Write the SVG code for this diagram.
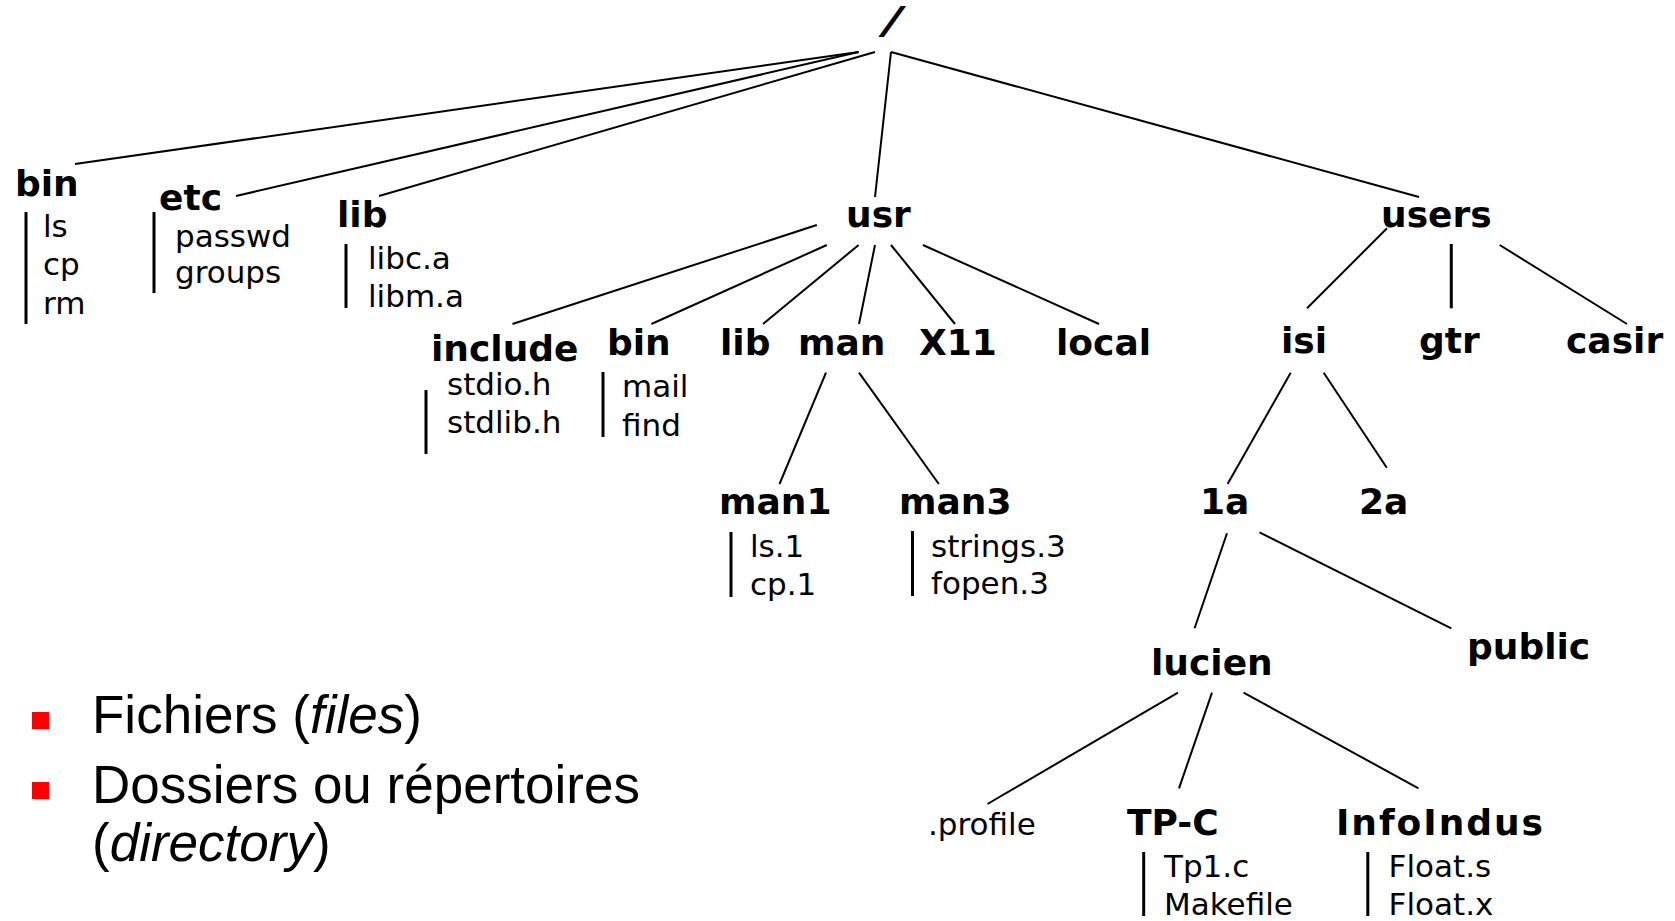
<svg xmlns="http://www.w3.org/2000/svg" width="1675" height="921" viewBox="0 0 1675 921">
<style>
.d{font-family:"DejaVu Sans",Verdana,sans-serif;font-weight:bold;font-size:36px;fill:#000}
.f{font-family:"DejaVu Sans",Verdana,sans-serif;font-size:31px;fill:#000}
.lg{font-family:"Liberation Sans",Arial,sans-serif;font-size:53px;fill:#000}
.c line{stroke:#000;stroke-width:2;fill:none}
.bar{stroke:#000;stroke-width:3}
.bul{fill:#ff0000}
</style>
<rect width="1675" height="921" fill="#fff"/>
<g id="connectors" class="c">
<line x1="858.6" y1="52" x2="75" y2="164"/>
<line x1="858.6" y1="52" x2="236" y2="196"/>
<line x1="875" y1="52" x2="379" y2="196"/>
<line x1="891" y1="52" x2="875" y2="197"/>
<line x1="891" y1="52" x2="1419" y2="197"/>
<line x1="816.8" y1="225" x2="512.5" y2="324"/>
<line x1="826.8" y1="245" x2="651.4" y2="324"/>
<line x1="858.6" y1="245" x2="763" y2="324"/>
<line x1="875" y1="245" x2="859" y2="324"/>
<line x1="891" y1="245" x2="955" y2="324"/>
<line x1="922.9" y1="245" x2="1099" y2="324"/>
<line x1="1387" y1="228.3" x2="1307" y2="308.3"/>
<line x1="1451.3" y1="244" x2="1451.3" y2="308.3" style="stroke-width:3"/>
<line x1="1499.7" y1="245" x2="1627" y2="324"/>
<line x1="826" y1="372.7" x2="779.5" y2="484"/>
<line x1="859" y1="372.7" x2="938.8" y2="484"/>
<line x1="1290.7" y1="372.7" x2="1227.6" y2="484"/>
<line x1="1323.7" y1="372.7" x2="1386.8" y2="467.7"/>
<line x1="1227" y1="533.3" x2="1194.6" y2="628.3"/>
<line x1="1259.5" y1="532.3" x2="1451.3" y2="628.3"/>
<line x1="1178" y1="692.7" x2="987.5" y2="804"/>
<line x1="1212" y1="692.7" x2="1179" y2="788.3"/>
<line x1="1243.6" y1="692.7" x2="1418.5" y2="788.3"/>
</g>
<g id="root"><text class="d" transform="translate(881,33) skewX(-22)" x="0" y="0" font-size="28" stroke="#000" stroke-width="1.4">/</text></g>
<g id="bin">
<text class="d" x="15" y="196">bin</text>
<line class="bar" x1="26" y1="212" x2="26" y2="324"/>
<text class="f" x="43" y="237">ls</text>
<text class="f" x="43" y="275">cp</text>
<text class="f" x="43" y="314">rm</text>
</g>
<g id="etc">
<text class="d" x="159" y="210">etc</text>
<line class="bar" x1="154" y1="212" x2="154" y2="293"/>
<text class="f" x="175" y="247">passwd</text>
<text class="f" x="175" y="283">groups</text>
</g>
<g id="lib">
<text class="d" x="337" y="227">lib</text>
<line class="bar" x1="346" y1="244" x2="346" y2="308"/>
<text class="f" x="368" y="269">libc.a</text>
<text class="f" x="368" y="307">libm.a</text>
</g>
<g id="usr"><text class="d" x="846" y="227">usr</text></g>
<g id="users"><text class="d" x="1381" y="227">users</text></g>
<g id="include">
<text class="d" x="431" y="361">include</text>
<line class="bar" x1="426" y1="390" x2="426" y2="454"/>
<text class="f" x="447" y="395">stdio.h</text>
<text class="f" x="447" y="433">stdlib.h</text>
</g>
<g id="usr-bin">
<text class="d" x="607" y="355">bin</text>
<line class="bar" x1="603" y1="372" x2="603" y2="437"/>
<text class="f" x="622" y="397">mail</text>
<text class="f" x="622" y="436">find</text>
</g>
<g id="usr-lib"><text class="d" x="720" y="355">lib</text></g>
<g id="man"><text class="d" x="798" y="355">man</text></g>
<g id="X11"><text class="d" x="919" y="355">X11</text></g>
<g id="local"><text class="d" x="1056" y="355">local</text></g>
<g id="isi"><text class="d" x="1281" y="353">isi</text></g>
<g id="gtr"><text class="d" x="1419" y="353">gtr</text></g>
<g id="casir"><text class="d" x="1566" y="353">casir</text></g>
<g id="man1">
<text class="d" x="719" y="514">man1</text>
<line class="bar" x1="731" y1="532" x2="731" y2="597"/>
<text class="f" x="750" y="557">ls.1</text>
<text class="f" x="750" y="595">cp.1</text>
</g>
<g id="man3">
<text class="d" x="899" y="514">man3</text>
<line class="bar" x1="912.5" y1="531" x2="912.5" y2="596"/>
<text class="f" x="931" y="557">strings.3</text>
<text class="f" x="931" y="594">fopen.3</text>
</g>
<g id="n1a"><text class="d" x="1200" y="514">1a</text></g>
<g id="n2a"><text class="d" x="1359" y="514">2a</text></g>
<g id="public"><text class="d" x="1467" y="659">public</text></g>
<g id="lucien"><text class="d" x="1151" y="675">lucien</text></g>
<g id="profile"><text class="f" x="928" y="835">.profile</text></g>
<g id="TP-C">
<text class="d" x="1127" y="835">TP-C</text>
<line class="bar" x1="1143.7" y1="852" x2="1143.7" y2="916"/>
<text class="f" x="1164" y="877">Tp1.c</text>
<text class="f" x="1164" y="915">Makefile</text>
</g>
<g id="InfoIndus">
<text class="d" x="1336" y="835" textLength="207" lengthAdjust="spacing">InfoIndus</text>
<line class="bar" x1="1367.8" y1="852" x2="1367.8" y2="916"/>
<text class="f" x="1388.6" y="877">Float.s</text>
<text class="f" x="1388.6" y="915">Float.x</text>
</g>
<g id="legend">
<rect class="bul" x="32" y="712" width="17" height="17"/>
<text class="lg" x="92" y="733">Fichiers (<tspan font-style="italic">files</tspan>)</text>
<rect class="bul" x="32" y="782" width="17" height="17"/>
<text class="lg" x="92" y="803">Dossiers ou répertoires</text>
<text class="lg" x="92" y="861">(<tspan font-style="italic">directory</tspan>)</text>
</g>
</svg>
